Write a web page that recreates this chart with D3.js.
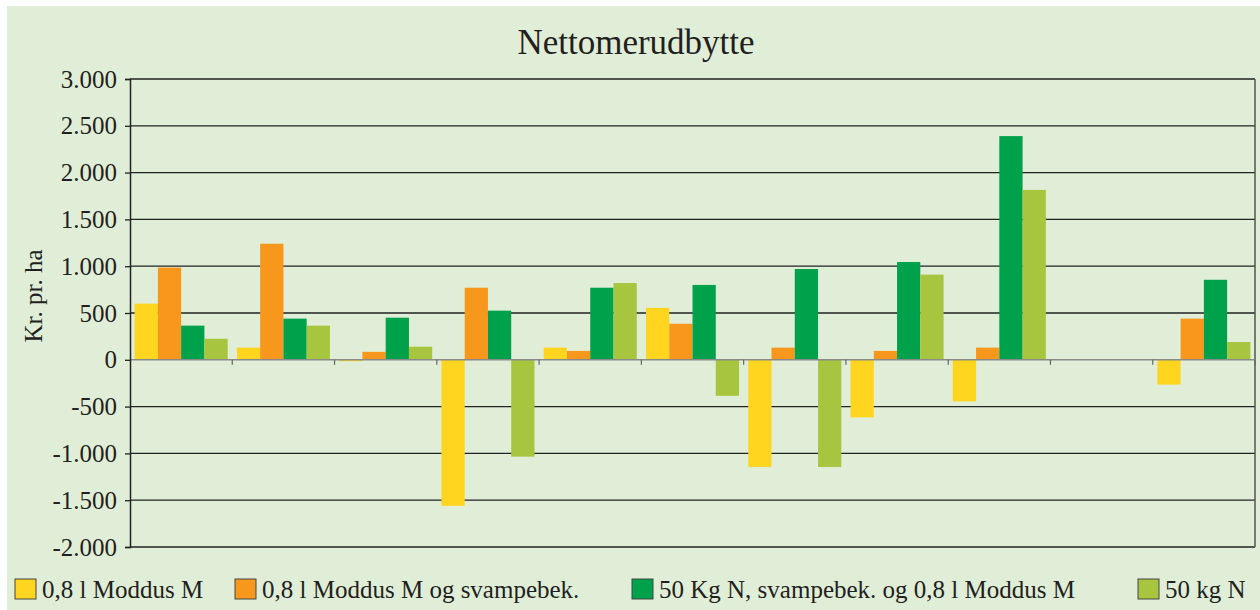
<!DOCTYPE html>
<html>
<head>
<meta charset="utf-8">
<script src="https://cdn.jsdelivr.net/npm/d3@7"></script>
<style>
  body { margin: 0; background: #fff; }
  svg { display: block; font-family: "Liberation Serif", "Times New Roman", serif; }
</style>
</head>
<body>
<svg></svg>
<script>
var width = 1260, height = 610;

// 11 groups, no labels shown on the chart
var categories = ["1", "2", "3", "4", "5", "6", "7", "8", "9", "10", "11"];
var seriesNames = ["0,8 l Moddus M", "0,8 l Moddus M og svampebek.", "50 Kg N, svampebek. og 0,8 l Moddus M", "50 kg N"];
var moddus = [600, 130, -15, -1560, 130, 555, -1145, -615, -445, 0, -265];
var moddusSvamp = [985, 1240, 85, 770, 95, 385, 130, 95, 130, 0, 440];
var kgSvampModdus = [365, 440, 450, 525, 770, 800, 970, 1045, 2390, 0, 855];
var kgN = [225, 365, 140, -1035, 820, -385, -1145, 910, 1815, 0, 190];
var yTicks = [-2000, -1500, -1000, -500, 0, 500, 1000, 1500, 2000, 2500, 3000];
var colors = ["#FFD520", "#F7981D", "#00A14B", "#A8C540"];

var seriesValues = [moddus, moddusSvamp, kgSvampModdus, kgN];

var svg = d3.select("svg")
    .attr("width", width)
    .attr("height", height);

svg.append("rect")
    .attr("x", 7).attr("y", 6)
    .attr("width", width - 7).attr("height", height - 6)
    .attr("fill", "#E0EED8");

var plotLeft = 130, plotRight = 1255, plotTop = 79, plotBottom = 547;

var x = d3.scaleBand().domain(categories).range([plotLeft, plotRight]).padding(0);
var xs = d3.scaleBand().domain(d3.range(4))
    .range([x.bandwidth() * 0.045, x.bandwidth() * 0.955]).padding(0);
var y = d3.scaleLinear().domain([-2000, 3000]).range([plotBottom, plotTop]);

function fmt(d) {
    return d3.format(",")(d).replace(/,/g, ".").replace("−", "-");
}

// gridlines
svg.append("g").selectAll("line")
    .data(yTicks.filter(function(d) { return d !== 0; }))
    .enter().append("line")
    .attr("x1", plotLeft).attr("x2", plotRight)
    .attr("y1", function(d) { return y(d); })
    .attr("y2", function(d) { return y(d); })
    .attr("stroke", "#222")
    .attr("stroke-width", 1.3);

// right border
svg.append("line")
    .attr("x1", plotRight).attr("x2", plotRight)
    .attr("y1", plotTop).attr("y2", plotBottom)
    .attr("stroke", "#555").attr("stroke-width", 1.5);

// bars
var groups = svg.append("g").selectAll("g")
    .data(categories)
    .enter().append("g")
    .attr("transform", function(d) { return "translate(" + x(d) + ",0)"; });

groups.selectAll("rect")
    .data(function(d, i) {
        return seriesValues.map(function(vals, s) { return { s: s, v: vals[i] }; });
    })
    .enter().append("rect")
    .attr("x", function(d) { return xs(d.s); })
    .attr("width", xs.bandwidth())
    .attr("y", function(d) { return y(Math.max(0, d.v)); })
    .attr("height", function(d) { return Math.abs(y(d.v) - y(0)); })
    .attr("fill", function(d) { return colors[d.s]; });

// zero line with category ticks
svg.append("line")
    .attr("x1", plotLeft).attr("x2", plotRight)
    .attr("y1", y(0)).attr("y2", y(0))
    .attr("stroke", "#8a8a8a").attr("stroke-width", 1.5);

svg.append("g").selectAll("line")
    .data(categories.slice(1).concat(["end"]))
    .enter().append("line")
    .attr("x1", function(d) { return d === "end" ? plotRight : x(d); })
    .attr("x2", function(d) { return d === "end" ? plotRight : x(d); })
    .attr("y1", y(0)).attr("y2", y(0) + 5)
    .attr("stroke", "#666").attr("stroke-width", 1.2);

// y axis
var yAxis = d3.axisLeft(y).tickValues(yTicks).tickSize(5).tickPadding(8).tickFormat(fmt);
var ga = svg.append("g")
    .attr("transform", "translate(" + plotLeft + ",0)")
    .call(yAxis);
ga.select(".domain").attr("stroke", "#222").attr("stroke-width", 1.5);
ga.selectAll(".tick line").attr("stroke", "#222").attr("stroke-width", 1.3);
ga.selectAll(".tick text")
    .attr("fill", "#231f20")
    .style("font-family", "Liberation Serif, serif")
    .style("font-size", "25px");

svg.append("text")
    .attr("transform", "translate(42,296) rotate(-90)")
    .attr("text-anchor", "middle")
    .attr("fill", "#231f20")
    .style("font-size", "25px")
    .text("Kr. pr. ha");

svg.append("text")
    .attr("x", 636).attr("y", 54)
    .attr("text-anchor", "middle")
    .attr("fill", "#231f20")
    .style("font-size", "35px")
    .text("Nettomerudbytte");

// legend
var legendX = [15, 235, 632, 1138];
var legend = svg.append("g").selectAll("g")
    .data(seriesNames)
    .enter().append("g")
    .attr("transform", function(d, i) { return "translate(" + legendX[i] + ",579)"; });

legend.append("rect")
    .attr("width", 21).attr("height", 20)
    .attr("fill", function(d, i) { return colors[i]; })
    .attr("stroke", "#444").attr("stroke-width", 1);

legend.append("text")
    .attr("x", 27).attr("y", 19)
    .attr("fill", "#231f20")
    .style("font-size", "25px")
    .text(function(d) { return d; });
</script>
</body>
</html>
